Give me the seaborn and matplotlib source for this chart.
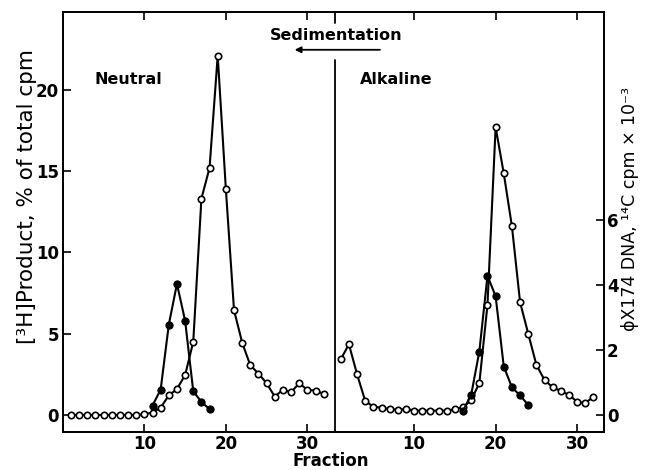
import numpy as np
import matplotlib
matplotlib.use("Agg")
import matplotlib.pyplot as plt
import seaborn as sns

# sucrose gradient fractions, neutral (left) and alkaline (right) halves
fractions = np.arange(1, 33)

# [3H] product, % of total cpm (open circles)
neutral_product = [0, 0, 0, 0, 0, 0, 0, 0, 0, 0.05, 0.15, 0.45, 1.2, 1.6, 2.45, 4.5,
                   13.3, 15.2, 22.1, 13.9, 6.45, 4.45, 3.05, 2.55, 1.95, 1.13, 1.55,
                   1.4, 1.95, 1.55, 1.5, 1.3]
alkaline_product = [3.42, 4.35, 2.5, 0.86, 0.51, 0.45, 0.37, 0.31, 0.37, 0.27, 0.27,
                    0.27, 0.27, 0.27, 0.35, 0.47, 0.92, 1.95, 6.77, 17.7, 14.85, 11.6,
                    6.93, 5.0, 3.08, 2.15, 1.7, 1.48, 1.23, 0.82, 0.72, 1.13]

# phiX174 DNA marker, 14C cpm x 10^-3 (filled circles)
neutral_marker_frac = [11, 12, 13, 14, 15, 16, 17, 18]
neutral_marker = [0.29, 0.78, 2.78, 4.03, 2.9, 0.73, 0.4, 0.18]
alkaline_marker_frac = [16, 17, 18, 19, 20, 21, 22, 23, 24]
alkaline_marker = [0.13, 0.62, 1.95, 4.28, 3.65, 1.49, 0.85, 0.6, 0.31]

xtick_labels = ["10", "20", "30"]

sns.set_style("ticks")
plt.rcParams["font.family"] = ["DejaVu Sans"]
plt.rcParams["font.weight"] = "bold"
for key in ["text.color", "axes.labelcolor", "xtick.color", "ytick.color", "axes.edgecolor"]:
    plt.rcParams[key] = "black"

XOFF = 33.1      # where the alkaline gradient starts on the shared x axis
DIVIDER = 33.4

fig = plt.figure(figsize=(6.49, 4.70), dpi=100)
ax = fig.add_axes([0.0971, 0.0809, 0.8336, 0.8936])
ax2 = ax.twinx()

open_kw = dict(color="black", marker="o", markersize=4.6, markerfacecolor="white",
               markeredgecolor="black", markeredgewidth=1.2, linewidth=1.5)
filled_kw = dict(color="black", marker="o", markersize=5.2, markerfacecolor="black",
                 markeredgecolor="black", linewidth=1.5)

sns.lineplot(x=fractions, y=neutral_product, ax=ax, **open_kw)
sns.lineplot(x=fractions + XOFF, y=alkaline_product, ax=ax, **open_kw)
sns.lineplot(x=neutral_marker_frac, y=neutral_marker, ax=ax2, **filled_kw)
sns.lineplot(x=np.array(alkaline_marker_frac) + XOFF, y=alkaline_marker, ax=ax2, **filled_kw)

ax.set_xlim(0.02, 66.4)
ax.set_ylim(-1.045, 24.78)
ax2.set_ylim(-1.045 / 2, 24.78 / 2)

tick_pos = [10, 20, 30, 10 + XOFF, 20 + XOFF, 30 + XOFF]
ax.set_xticks(tick_pos)
ax.set_xticklabels(xtick_labels * 2)
ax.set_yticks([0, 5, 10, 15, 20])
ax2.set_yticks([0, 2, 4, 6])

ax.tick_params(axis="x", direction="in", top=True, length=6, width=1.2, labelsize=12, pad=2)
ax.tick_params(axis="y", direction="in", left=True, right=False, length=6, width=1.2,
               labelsize=12, pad=3)
ax2.tick_params(axis="y", direction="in", length=6, width=1.2, labelsize=12, pad=2)

for a in (ax, ax2):
    for s in a.spines.values():
        s.set_linewidth(1.3)
        s.set_visible(True)

# divider between the two gradients, interrupted by the sedimentation note
ax.axvline(DIVIDER, ymin=0, ymax=0.886, color="black", lw=1.3)
ax.axvline(DIVIDER, ymin=0.974, ymax=1, color="black", lw=1.3)

ax.text(0.059, 0.84, "Neutral", transform=ax.transAxes, ha="left", va="center",
        fontsize=11.5, fontweight="bold")
ax.text(0.549, 0.84, "Alkaline", transform=ax.transAxes, ha="left", va="center",
        fontsize=11.5, fontweight="bold")
ax.text(0.5055, 0.945, "Sedimentation", transform=ax.transAxes, ha="center", va="center",
        fontsize=11.5, fontweight="bold")
ax.annotate("", xy=(0.423, 0.91), xytext=(0.591, 0.91), xycoords="axes fraction",
            arrowprops=dict(arrowstyle="-|>", color="black", lw=1.3, mutation_scale=9))

ax.set_xlabel("Fraction", fontsize=12, fontweight="bold", va="center")
ax.xaxis.set_label_coords(0.495, -0.069)
ax.set_ylabel("[³H]Product, % of total cpm", fontsize=15.5, fontweight="normal", va="center")
ax.yaxis.set_label_coords(-0.0665, 0.56)
ax2.set_ylabel("ϕX174 DNA, ¹⁴C cpm × 10⁻³", fontsize=12.5, fontweight="normal",
               rotation=90, va="center")
ax2.yaxis.set_label_coords(1.048, 0.531)

fig.savefig("out.png", dpi=100)
